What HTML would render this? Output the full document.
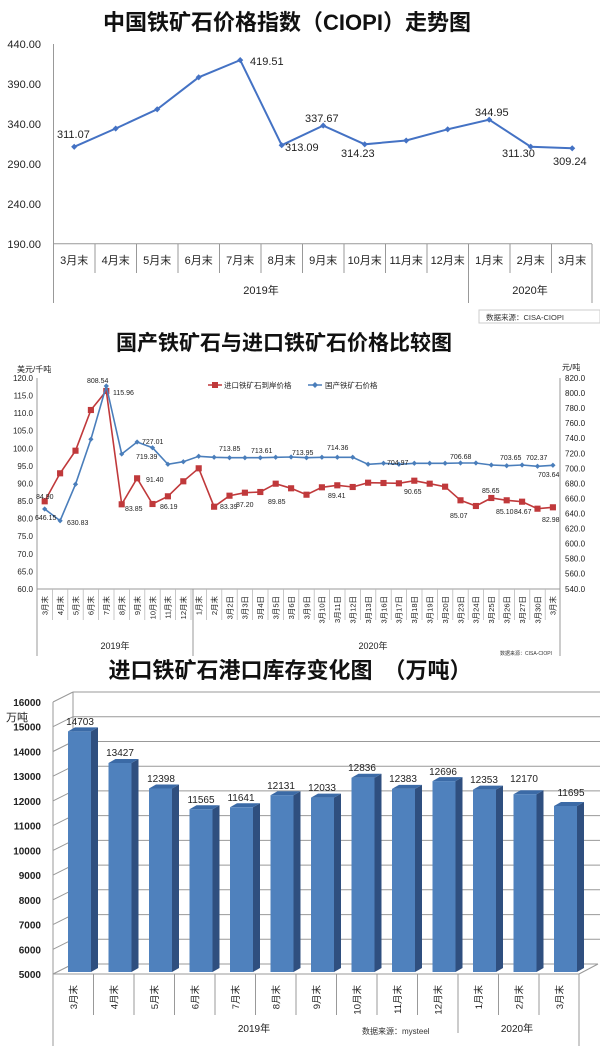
<!DOCTYPE html>
<html><head><meta charset="utf-8"><style>
html,body{margin:0;padding:0;background:#fff;}
svg{display:block;font-family:"Liberation Sans","Noto Sans CJK SC",sans-serif;}
</style></head><body>
<svg width="600" height="1046" viewBox="0 0 600 1046" xmlns="http://www.w3.org/2000/svg">
<defs>
<marker id="dia" viewBox="-4 -4 8 8" markerWidth="7" markerHeight="7" markerUnits="userSpaceOnUse"><path d="M0 -3.5 L3.5 0 L0 3.5 L-3.5 0Z" fill="#4472c4"/></marker>
<marker id="dia2" viewBox="-4 -4 8 8" markerWidth="6" markerHeight="6" markerUnits="userSpaceOnUse"><path d="M0 -3.5 L3.5 0 L0 3.5 L-3.5 0Z" fill="#4a7ebb"/></marker>
<marker id="sq" viewBox="-4 -4 8 8" markerWidth="7" markerHeight="7" markerUnits="userSpaceOnUse"><rect x="-3.5" y="-3.5" width="7" height="7" fill="#c0393b"/></marker>
</defs>

<!-- ============ CHART 1 ============ -->
<text x="287" y="30" font-size="22" text-anchor="middle" fill="#111" font-weight="bold">中国铁矿石价格指数（CIOPI）走势图</text>
<g font-size="11" fill="#222" text-anchor="end">
<text x="41" y="48">440.00</text><text x="41" y="88">390.00</text><text x="41" y="128">340.00</text>
<text x="41" y="168">290.00</text><text x="41" y="208">240.00</text><text x="41" y="248">190.00</text>
</g>
<g stroke="#999" stroke-width="1">
<line x1="53.5" y1="44" x2="53.5" y2="303"/>
<line x1="53" y1="243.7" x2="592" y2="243.7"/>
<line x1="95" y1="244" x2="95" y2="273"/><line x1="136.5" y1="244" x2="136.5" y2="273"/><line x1="178" y1="244" x2="178" y2="273"/>
<line x1="219.5" y1="244" x2="219.5" y2="273"/><line x1="261" y1="244" x2="261" y2="273"/><line x1="302.5" y1="244" x2="302.5" y2="273"/>
<line x1="344" y1="244" x2="344" y2="273"/><line x1="385.5" y1="244" x2="385.5" y2="273"/><line x1="427" y1="244" x2="427" y2="273"/>
<line x1="468.5" y1="244" x2="468.5" y2="303"/><line x1="510" y1="244" x2="510" y2="273"/><line x1="551.5" y1="244" x2="551.5" y2="273"/>
<line x1="592" y1="244" x2="592" y2="303"/>
</g>
<g font-size="11" fill="#222" text-anchor="middle">
<text x="74.2" y="264">3月末</text><text x="115.7" y="264">4月末</text><text x="157.2" y="264">5月末</text><text x="198.7" y="264">6月末</text>
<text x="240.2" y="264">7月末</text><text x="281.7" y="264">8月末</text><text x="323.2" y="264">9月末</text><text x="364.7" y="264">10月末</text>
<text x="406.2" y="264">11月末</text><text x="447.7" y="264">12月末</text><text x="489.2" y="264">1月末</text><text x="530.7" y="264">2月末</text>
<text x="572.2" y="264">3月末</text>
<text x="261" y="294">2019年</text><text x="530" y="294">2020年</text>
</g>
<polyline fill="none" stroke="#4472c4" stroke-width="2" marker-start="url(#dia)" marker-mid="url(#dia)" marker-end="url(#dia)"
points="74.2,146.8 115.7,128.5 157.2,109.3 198.7,77.3 240.2,60.1 281.7,145.2 323.2,125.6 364.7,144.3 406.2,140.5 447.7,129.3 489.2,119.7 530.7,146.7 572.2,148.3"/>
<g font-size="11" fill="#222">
<text x="57" y="138">311.07</text><text x="250" y="65">419.51</text><text x="285" y="151">313.09</text>
<text x="305" y="122">337.67</text><text x="341" y="157">314.23</text><text x="475" y="116">344.95</text>
<text x="502" y="157">311.30</text><text x="553" y="165">309.24</text>
</g>
<rect x="479" y="310" width="121" height="13" fill="#fff" stroke="#ccc"/>
<text x="486" y="320" font-size="7.5" fill="#333">数据来源：CISA-CIOPI</text>

<!-- ============ CHART 2 ============ -->
<text x="284" y="350" font-size="21" text-anchor="middle" fill="#111" font-weight="bold">国产铁矿石与进口铁矿石价格比较图</text>
<text x="17" y="372" font-size="8" fill="#222">美元/千吨</text>
<text x="562" y="370" font-size="8" fill="#222">元/吨</text>
<g font-size="8" fill="#222" text-anchor="end">
<text x="33" y="381">120.0</text><text x="33" y="398.6">115.0</text><text x="33" y="416.2">110.0</text><text x="33" y="433.7">105.0</text>
<text x="33" y="451.3">100.0</text><text x="33" y="468.9">95.0</text><text x="33" y="486.5">90.0</text><text x="33" y="504">85.0</text>
<text x="33" y="521.6">80.0</text><text x="33" y="539.2">75.0</text><text x="33" y="556.8">70.0</text><text x="33" y="574.3">65.0</text>
<text x="33" y="592">60.0</text>
</g>
<g font-size="8" fill="#222">
<text x="565" y="381">820.0</text><text x="565" y="396">800.0</text><text x="565" y="411.1">780.0</text><text x="565" y="426.1">760.0</text>
<text x="565" y="441.2">740.0</text><text x="565" y="456.3">720.0</text><text x="565" y="471.3">700.0</text><text x="565" y="486.4">680.0</text>
<text x="565" y="501.4">660.0</text><text x="565" y="516.5">640.0</text><text x="565" y="531.6">620.0</text><text x="565" y="546.6">600.0</text>
<text x="565" y="561.7">580.0</text><text x="565" y="576.7">560.0</text><text x="565" y="592">540.0</text>
</g>
<g stroke="#999" stroke-width="1">
<line x1="37" y1="378" x2="37" y2="656"/>
<line x1="560" y1="378" x2="560" y2="656"/>
<line x1="37" y1="589" x2="560" y2="589"/>
<line x1="193" y1="589" x2="193" y2="656"/>
</g>
<g stroke="#bbb" stroke-width="0.8">
<line x1="52.4" y1="589" x2="52.4" y2="620"/><line x1="67.8" y1="589" x2="67.8" y2="620"/><line x1="83.2" y1="589" x2="83.2" y2="620"/>
<line x1="98.6" y1="589" x2="98.6" y2="620"/><line x1="114" y1="589" x2="114" y2="620"/><line x1="129.4" y1="589" x2="129.4" y2="620"/>
<line x1="144.8" y1="589" x2="144.8" y2="620"/><line x1="160.2" y1="589" x2="160.2" y2="620"/><line x1="175.6" y1="589" x2="175.6" y2="620"/>
<line x1="191" y1="589" x2="191" y2="620"/><line x1="206.4" y1="589" x2="206.4" y2="620"/><line x1="221.8" y1="589" x2="221.8" y2="620"/>
<line x1="237.2" y1="589" x2="237.2" y2="620"/><line x1="252.6" y1="589" x2="252.6" y2="620"/><line x1="268" y1="589" x2="268" y2="620"/>
<line x1="283.4" y1="589" x2="283.4" y2="620"/><line x1="298.8" y1="589" x2="298.8" y2="620"/><line x1="314.2" y1="589" x2="314.2" y2="620"/>
<line x1="329.6" y1="589" x2="329.6" y2="620"/><line x1="345" y1="589" x2="345" y2="620"/><line x1="360.4" y1="589" x2="360.4" y2="620"/>
<line x1="375.8" y1="589" x2="375.8" y2="620"/><line x1="391.2" y1="589" x2="391.2" y2="620"/><line x1="406.6" y1="589" x2="406.6" y2="620"/>
<line x1="422" y1="589" x2="422" y2="620"/><line x1="437.4" y1="589" x2="437.4" y2="620"/><line x1="452.8" y1="589" x2="452.8" y2="620"/>
<line x1="468.2" y1="589" x2="468.2" y2="620"/><line x1="483.6" y1="589" x2="483.6" y2="620"/><line x1="499" y1="589" x2="499" y2="620"/>
<line x1="514.4" y1="589" x2="514.4" y2="620"/><line x1="529.8" y1="589" x2="529.8" y2="620"/><line x1="545.2" y1="589" x2="545.2" y2="620"/>
</g>
<g font-size="7.5" fill="#222" text-anchor="end">
<text transform="translate(47.5,596) rotate(-90)">3月末</text><text transform="translate(62.9,596) rotate(-90)">4月末</text>
<text transform="translate(78.3,596) rotate(-90)">5月末</text><text transform="translate(93.7,596) rotate(-90)">6月末</text>
<text transform="translate(109.1,596) rotate(-90)">7月末</text><text transform="translate(124.5,596) rotate(-90)">8月末</text>
<text transform="translate(139.9,596) rotate(-90)">9月末</text><text transform="translate(155.3,596) rotate(-90)">10月末</text>
<text transform="translate(170.7,596) rotate(-90)">11月末</text><text transform="translate(186.1,596) rotate(-90)">12月末</text>
<text transform="translate(201.5,596) rotate(-90)">1月末</text><text transform="translate(216.9,596) rotate(-90)">2月末</text>
<text transform="translate(232.3,596) rotate(-90)">3月2日</text><text transform="translate(247.7,596) rotate(-90)">3月3日</text>
<text transform="translate(263.1,596) rotate(-90)">3月4日</text><text transform="translate(278.5,596) rotate(-90)">3月5日</text>
<text transform="translate(293.9,596) rotate(-90)">3月6日</text><text transform="translate(309.3,596) rotate(-90)">3月9日</text>
<text transform="translate(324.7,596) rotate(-90)">3月10日</text><text transform="translate(340.1,596) rotate(-90)">3月11日</text>
<text transform="translate(355.5,596) rotate(-90)">3月12日</text><text transform="translate(370.9,596) rotate(-90)">3月13日</text>
<text transform="translate(386.3,596) rotate(-90)">3月16日</text><text transform="translate(401.7,596) rotate(-90)">3月17日</text>
<text transform="translate(417.1,596) rotate(-90)">3月18日</text><text transform="translate(432.5,596) rotate(-90)">3月19日</text>
<text transform="translate(447.9,596) rotate(-90)">3月20日</text><text transform="translate(463.3,596) rotate(-90)">3月23日</text>
<text transform="translate(478.7,596) rotate(-90)">3月24日</text><text transform="translate(494.1,596) rotate(-90)">3月25日</text>
<text transform="translate(509.5,596) rotate(-90)">3月26日</text><text transform="translate(524.9,596) rotate(-90)">3月27日</text>
<text transform="translate(540.3,596) rotate(-90)">3月30日</text><text transform="translate(555.7,596) rotate(-90)">3月末</text>
</g>
<text x="115" y="649" font-size="9" fill="#222" text-anchor="middle">2019年</text>
<text x="373" y="649" font-size="9" fill="#222" text-anchor="middle">2020年</text>
<text x="500" y="655" font-size="5" fill="#333">数据来源：CISA-CIOPI</text>
<!-- legend -->
<line x1="208" y1="385" x2="222" y2="385" stroke="#c0393b" stroke-width="1.5"/><rect x="212" y="382" width="6" height="6" fill="#c0393b"/>
<text x="224" y="388" font-size="7.5" fill="#222">进口铁矿石到岸价格</text>
<line x1="308" y1="385" x2="322" y2="385" stroke="#4a7ebb" stroke-width="1.5"/><path d="M315 382 L318 385 L315 388 L312 385Z" fill="#4a7ebb"/>
<text x="325" y="388" font-size="7.5" fill="#222">国产铁矿石价格</text>
<polyline fill="none" stroke="#c0393b" stroke-width="1.6" marker-start="url(#sq)" marker-mid="url(#sq)" marker-end="url(#sq)"
points="44.7,501.3 60.1,473.3 75.5,450.7 90.9,410 106.3,391 121.7,504.3 137.1,478.3 152.5,504 167.9,496.3 183.3,481.3 198.7,468.3 214.1,506.7 229.5,495.7 244.9,492.7 260.3,492 275.7,483.7 291.1,488.3 306.5,494.7 321.9,487.3 337.3,485.3 352.7,487 368.1,482.7 383.5,483 398.9,483.3 414.3,480.7 429.7,483.7 445.1,486.7 460.5,500.3 475.9,506 491.3,498 506.7,500.3 522.1,501.7 537.5,508.7 552.9,507.3"/>
<polyline fill="none" stroke="#4a7ebb" stroke-width="1.6" marker-start="url(#dia2)" marker-mid="url(#dia2)" marker-end="url(#dia2)"
points="44.7,509 60.1,520.7 75.5,484.3 90.9,439.3 106.3,386 121.7,454 137.1,442 152.5,447.7 167.9,464.3 183.3,461.7 198.7,456.3 214.1,457.3 229.5,457.7 244.9,457.7 260.3,457.7 275.7,457.3 291.1,457 306.5,457.7 321.9,457.3 337.3,457.3 352.7,457.3 368.1,464.3 383.5,463.3 398.9,464.3 414.3,463.3 429.7,463.3 445.1,463.3 460.5,463 475.9,463 491.3,465 506.7,465.7 522.1,465 537.5,466.3 552.9,465.3"/>
<g font-size="7" fill="#222">
<text x="36" y="499">84.90</text><text x="35" y="520">646.15</text><text x="67" y="525">630.83</text>
<text x="87" y="383">808.54</text><text x="113" y="395">115.96</text><text x="125" y="511">83.85</text>
<text x="136" y="459">719.39</text><text x="142" y="444">727.01</text><text x="146" y="482">91.40</text>
<text x="160" y="509">86.19</text><text x="219" y="451">713.85</text><text x="220" y="509">83.39</text>
<text x="236" y="507">87.20</text><text x="251" y="453">713.61</text><text x="268" y="504">89.85</text>
<text x="292" y="455">713.95</text><text x="327" y="450">714.36</text><text x="328" y="498">89.41</text>
<text x="387" y="465">704.97</text><text x="404" y="494">90.65</text><text x="450" y="459">706.68</text>
<text x="450" y="518">85.07</text><text x="482" y="493">85.65</text><text x="500" y="460">703.65</text>
<text x="526" y="460">702.37</text><text x="496" y="514">85.10</text><text x="514" y="514">84.67</text>
<text x="538" y="477">703.64</text><text x="542" y="522">82.98</text>
</g>

<!-- ============ CHART 3 ============ -->
<text x="290" y="678" font-size="22" text-anchor="middle" fill="#111" font-weight="bold">进口铁矿石港口库存变化图　（万吨）</text>
<g stroke="#999" stroke-width="1" fill="none">
<line x1="73" y1="692" x2="73" y2="964"/>
<line x1="73" y1="692" x2="600" y2="692"/>
<line x1="73" y1="716.7" x2="600" y2="716.7"/><line x1="73" y1="741.5" x2="600" y2="741.5"/><line x1="73" y1="766.2" x2="600" y2="766.2"/>
<line x1="73" y1="790.9" x2="600" y2="790.9"/><line x1="73" y1="815.6" x2="600" y2="815.6"/><line x1="73" y1="840.4" x2="600" y2="840.4"/>
<line x1="73" y1="865.1" x2="600" y2="865.1"/><line x1="73" y1="889.8" x2="600" y2="889.8"/><line x1="73" y1="914.6" x2="600" y2="914.6"/>
<line x1="73" y1="939.3" x2="600" y2="939.3"/><line x1="73" y1="964" x2="598" y2="964"/>
<line x1="53" y1="702" x2="73" y2="692"/><line x1="53" y1="726.7" x2="73" y2="716.7"/><line x1="53" y1="751.5" x2="73" y2="741.5"/>
<line x1="53" y1="776.2" x2="73" y2="766.2"/><line x1="53" y1="800.9" x2="73" y2="790.9"/><line x1="53" y1="825.6" x2="73" y2="815.6"/>
<line x1="53" y1="850.4" x2="73" y2="840.4"/><line x1="53" y1="875.1" x2="73" y2="865.1"/><line x1="53" y1="899.8" x2="73" y2="889.8"/>
<line x1="53" y1="924.6" x2="73" y2="914.6"/><line x1="53" y1="949.3" x2="73" y2="939.3"/><line x1="53" y1="974" x2="73" y2="964"/>
<line x1="53" y1="702" x2="53" y2="1046"/>
<line x1="53" y1="974" x2="579" y2="974"/><line x1="579" y1="974" x2="598" y2="964"/>
</g>
<text x="6" y="721" font-size="11" fill="#222">万吨</text>
<g font-size="10" fill="#222" text-anchor="end" font-weight="bold">
<text x="41" y="706">16000</text><text x="41" y="730.7">15000</text><text x="41" y="755.5">14000</text><text x="41" y="780.2">13000</text>
<text x="41" y="804.9">12000</text><text x="41" y="829.6">11000</text><text x="41" y="854.4">10000</text><text x="41" y="879.1">9000</text>
<text x="41" y="903.8">8000</text><text x="41" y="928.6">7000</text><text x="41" y="953.3">6000</text><text x="41" y="978">5000</text>
</g>
<g>
<g fill="#2f4f7f">
<polygon points="91,731.4 98,727.4 98,968 91,972"/><polygon points="131.5,763 138.5,759 138.5,968 131.5,972"/>
<polygon points="172,788.5 179,784.5 179,968 172,972"/><polygon points="212.5,809.2 219.5,805.2 219.5,968 212.5,972"/>
<polygon points="253,807.3 260,803.3 260,968 253,972"/><polygon points="293.5,795.2 300.5,791.2 300.5,968 293.5,972"/>
<polygon points="334,797.6 341,793.6 341,968 334,972"/><polygon points="374.5,777.7 381.5,773.7 381.5,968 374.5,972"/>
<polygon points="415,788.9 422,784.9 422,968 415,972"/><polygon points="455.5,781.1 462.5,777.1 462.5,968 455.5,972"/>
<polygon points="496,789.6 503,785.6 503,968 496,972"/><polygon points="536.5,794.2 543.5,790.2 543.5,968 536.5,972"/>
<polygon points="577,806 584,802 584,968 577,972"/>
</g>
<g fill="#3b6aa6">
<polygon points="68,731.4 75,727.4 98,727.4 91,731.4"/><polygon points="108.5,763 115.5,759 138.5,759 131.5,763"/>
<polygon points="149,788.5 156,784.5 179,784.5 172,788.5"/><polygon points="189.5,809.2 196.5,805.2 219.5,805.2 212.5,809.2"/>
<polygon points="230,807.3 237,803.3 260,803.3 253,807.3"/><polygon points="270.5,795.2 277.5,791.2 300.5,791.2 293.5,795.2"/>
<polygon points="311,797.6 318,793.6 341,793.6 334,797.6"/><polygon points="351.5,777.7 358.5,773.7 381.5,773.7 374.5,777.7"/>
<polygon points="392,788.9 399,784.9 422,784.9 415,788.9"/><polygon points="432.5,781.1 439.5,777.1 462.5,777.1 455.5,781.1"/>
<polygon points="473,789.6 480,785.6 503,785.6 496,789.6"/><polygon points="513.5,794.2 520.5,790.2 543.5,790.2 536.5,794.2"/>
<polygon points="554,806 561,802 584,802 577,806"/>
</g>
<g fill="#4f81bd">
<rect x="68" y="731.4" width="23" height="240.6"/><rect x="108.5" y="763" width="23" height="209"/>
<rect x="149" y="788.5" width="23" height="183.5"/><rect x="189.5" y="809.2" width="23" height="162.8"/>
<rect x="230" y="807.3" width="23" height="164.7"/><rect x="270.5" y="795.2" width="23" height="176.8"/>
<rect x="311" y="797.6" width="23" height="174.4"/><rect x="351.5" y="777.7" width="23" height="194.3"/>
<rect x="392" y="788.9" width="23" height="183.1"/><rect x="432.5" y="781.1" width="23" height="190.9"/>
<rect x="473" y="789.6" width="23" height="182.4"/><rect x="513.5" y="794.2" width="23" height="177.8"/>
<rect x="554" y="806" width="23" height="166"/>
</g>
</g>
<g font-size="10" fill="#222" text-anchor="middle">
<text x="80" y="725">14703</text><text x="120" y="756">13427</text><text x="161" y="782">12398</text>
<text x="201" y="803">11565</text><text x="241" y="801">11641</text><text x="281" y="789">12131</text>
<text x="322" y="791">12033</text><text x="362" y="771">12836</text><text x="403" y="782">12383</text>
<text x="443" y="775">12696</text><text x="484" y="783">12353</text><text x="524" y="782">12170</text>
<text x="571" y="796">11695</text>
</g>
<g stroke="#999" stroke-width="1">
<line x1="93.5" y1="974" x2="93.5" y2="1015"/><line x1="134" y1="974" x2="134" y2="1015"/><line x1="174.5" y1="974" x2="174.5" y2="1015"/>
<line x1="215" y1="974" x2="215" y2="1015"/><line x1="255.5" y1="974" x2="255.5" y2="1015"/><line x1="296" y1="974" x2="296" y2="1015"/>
<line x1="336.5" y1="974" x2="336.5" y2="1015"/><line x1="377" y1="974" x2="377" y2="1015"/><line x1="417.5" y1="974" x2="417.5" y2="1015"/>
<line x1="458" y1="974" x2="458" y2="1033"/><line x1="498.5" y1="974" x2="498.5" y2="1015"/><line x1="539" y1="974" x2="539" y2="1015"/>
<line x1="579" y1="974" x2="579" y2="1046"/>
</g>
<g font-size="9.5" fill="#222" text-anchor="end">
<text transform="translate(77,985) rotate(-90)">3月末</text><text transform="translate(117.5,985) rotate(-90)">4月末</text>
<text transform="translate(158,985) rotate(-90)">5月末</text><text transform="translate(198.5,985) rotate(-90)">6月末</text>
<text transform="translate(239,985) rotate(-90)">7月末</text><text transform="translate(279.5,985) rotate(-90)">8月末</text>
<text transform="translate(320,985) rotate(-90)">9月末</text><text transform="translate(360.5,985) rotate(-90)">10月末</text>
<text transform="translate(401,985) rotate(-90)">11月末</text><text transform="translate(441.5,985) rotate(-90)">12月末</text>
<text transform="translate(482,985) rotate(-90)">1月末</text><text transform="translate(522.5,985) rotate(-90)">2月末</text>
<text transform="translate(563,985) rotate(-90)">3月末</text>
</g>
<text x="254" y="1032" font-size="10" fill="#222" text-anchor="middle">2019年</text>
<text x="517" y="1032" font-size="10" fill="#222" text-anchor="middle">2020年</text>
<text x="362" y="1034" font-size="8" fill="#333">数据来源：mysteel</text>
</svg>
</body></html>
